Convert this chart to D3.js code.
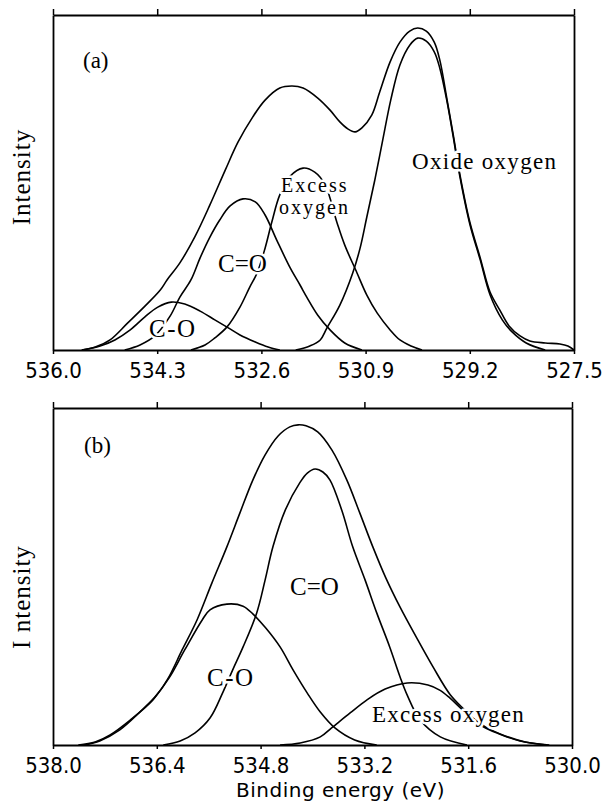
<!DOCTYPE html>
<html><head><meta charset="utf-8">
<script src="https://cdn.jsdelivr.net/npm/d3@7"></script>
<style>
body{margin:0;background:#fff;}
svg{display:block;background:#fff;}
.tick text{font-family:"Liberation Sans Narrow","DejaVu Sans Condensed","Arial Narrow",sans-serif;font-size:22px;fill:#000;}
.lab{font-family:"Liberation Serif","Times New Roman",serif;fill:#000;stroke:#fff;stroke-width:5px;paint-order:stroke;stroke-linejoin:round;}
.ylab{font-family:"Liberation Serif","Times New Roman",serif;fill:#000;font-size:25px;letter-spacing:1px;}
.xlab{font-family:"DejaVu Sans",sans-serif;fill:#000;font-size:20px;letter-spacing:0.5px;}
</style></head><body>
<svg id="c" width="609" height="810"></svg>
<script>
// ---------- Data: panel (a) ----------
const ticksA = [536.0, 534.3, 532.6, 530.9, 529.2, 527.5];
const tickLabelsA = ["536.0", "534.3", "532.6", "530.9", "529.2", "527.5"];
const envelopeA = [[535.53,0],[535.31,0.9],[535.07,3.0],[534.78,8.1],[534.50,13.1],[534.25,17.9],[534.14,20.9],[533.93,26.0],[533.68,34.0],[533.44,43.3],[533.19,53.7],[532.98,62.1],[532.74,69.6],[532.54,74.6],[532.30,78.2],[532.10,78.8],[531.92,78.2],[531.68,75.2],[531.48,71.6],[531.32,68.1],[531.19,66.0],[531.07,65.1],[530.96,66.3],[530.80,70.1],[530.67,77.0],[530.50,86.0],[530.34,91.9],[530.18,95.2],[530.05,96.1],[529.91,95.2],[529.78,91.9],[529.69,86.6],[529.57,74.6],[529.47,64.2],[529.36,52.2],[529.20,38.2],[529.03,27.5],[528.87,17.3],[528.71,11.9],[528.56,7.2],[528.38,4.2],[528.22,2.7],[527.97,2.1],[527.73,1.8],[527.60,1.2],[527.50,0]];
const cOA = [[535.53,0],[535.23,1.2],[534.99,3.0],[534.74,6.0],[534.50,9.9],[534.29,12.8],[534.07,14.3],[533.85,13.7],[533.60,11.6],[533.36,9.0],[533.14,6.6],[532.95,4.5],[532.70,2.4],[532.49,0.9],[532.30,0]];
const cdOA = [[534.83,0],[534.58,1.5],[534.34,4.2],[534.09,10.1],[533.93,15.8],[533.75,20.9],[533.60,27.5],[533.44,33.7],[533.28,38.8],[533.11,43.0],[532.90,45.1],[532.70,44.2],[532.54,40.3],[532.35,32.8],[532.13,24.5],[531.97,19.4],[531.86,15.8],[531.68,10.4],[531.48,6.0],[531.24,2.1],[530.96,0]];
const excessA = [[533.75,0],[533.52,1.5],[533.36,3.6],[533.16,6.9],[532.95,12.8],[532.79,18.8],[532.67,23.0],[532.54,30.4],[532.43,38.2],[532.30,46.3],[532.13,51.9],[531.92,54.3],[531.73,53.1],[531.56,49.3],[531.37,38.2],[531.24,31.3],[531.04,23.0],[530.88,16.4],[530.71,11.0],[530.50,6.0],[530.34,3.0],[530.16,1.2],[529.98,0]];
const oxideA = [[532.04,0],[531.81,1.2],[531.64,3.0],[531.53,6.6],[531.32,13.4],[531.11,23.0],[530.99,30.4],[530.88,39.7],[530.75,50.7],[530.62,62.7],[530.49,74.6],[530.34,85.1],[530.18,91.0],[530.05,93.1],[529.91,92.2],[529.78,89.0],[529.69,84.2],[529.57,74.0],[529.47,63.6],[529.36,51.6],[529.20,37.6],[529.03,26.9],[528.87,16.5],[528.67,9.0],[528.51,5.4],[528.28,2.1],[527.97,0]];

// ---------- Data: panel (b) ----------
const ticksB = [538.0, 536.4, 534.8, 533.2, 531.6, 530.0];
const tickLabelsB = ["538.0", "536.4", "534.8", "533.2", "531.6", "530.0"];
const envelopeB = [[537.61,0],[537.35,0.9],[537.12,3.0],[536.81,7.4],[536.46,13.4],[536.24,19.3],[536.01,28.2],[535.78,37.1],[535.55,48.1],[535.32,58.8],[535.12,68.8],[534.92,78.6],[534.73,86.1],[534.53,91.7],[534.35,94.4],[534.22,95.0],[534.10,94.7],[533.92,92.9],[533.70,87.5],[533.47,78.6],[533.27,68.8],[533.07,58.8],[532.87,49.6],[532.65,40.9],[532.40,32.0],[532.14,23.1],[531.88,15.0],[531.65,10.3],[531.42,6.0],[531.11,3.2],[530.80,1.2],[530.39,0]];
const cdOB = [[536.30,0],[536.04,1.2],[535.81,3.6],[535.58,8.0],[535.38,15.7],[535.23,22.3],[535.07,29.1],[534.86,39.2],[534.73,49.0],[534.61,58.8],[534.42,69.7],[534.19,78.0],[534.08,80.7],[533.96,81.9],[533.84,81.0],[533.73,78.6],[533.55,69.7],[533.38,58.8],[533.19,49.0],[533.01,39.2],[532.81,29.1],[532.65,20.2],[532.54,14.8],[532.34,7.4],[532.03,2.4],[531.62,0]];
const cOB = [[537.51,0],[537.28,1.2],[536.97,4.5],[536.66,9.8],[536.43,14.2],[536.21,19.9],[535.97,28.2],[535.70,37.1],[535.58,40.1],[535.32,41.8],[535.07,41.2],[534.92,38.9],[534.72,34.7],[534.50,29.1],[534.30,22.3],[534.08,15.4],[533.88,9.8],[533.65,5.0],[533.35,1.5],[533.01,0]];
const excessB = [[534.50,0],[534.19,0.6],[533.88,2.4],[533.71,5.0],[533.42,9.5],[533.16,13.4],[532.88,16.6],[532.54,18.4],[532.22,17.8],[532.04,16.3],[531.88,13.9],[531.65,9.8],[531.33,5.3],[531.03,2.7],[530.72,0.9],[530.35,0]];

const svg = d3.select("#c");

function drawPanel(x, y, ticks, labels, curves) {
  const g = svg.append("g");
  const line = d3.line().x(d => x(d[0])).y(d => y(d[1])).curve(d3.curveCatmullRom.alpha(0.5));
  curves.forEach(c => g.append("path").attr("d", line(c))
    .attr("fill", "none").attr("stroke", "#000").attr("stroke-width", 1.6).attr("stroke-linejoin", "round"));
  const [y0, y1] = y.range();
  const [x0, x1] = x.range();
  const bot = g.append("g").attr("transform", `translate(0,${y0})`)
    .call(d3.axisBottom(x).tickValues(ticks).tickSize(4).tickSizeOuter(0).tickPadding(8).tickFormat((d, i) => labels[i]));
  const top = g.append("g").attr("transform", `translate(0,${y1})`)
    .call(d3.axisTop(x).tickValues(ticks).tickSize(6).tickSizeOuter(0).tickFormat(""));
  const lft = g.append("g").attr("transform", `translate(${x0},0)`)
    .call(d3.axisLeft(y).tickValues([]).tickSizeOuter(0));
  const rgt = g.append("g").attr("transform", `translate(${x1},0)`)
    .call(d3.axisRight(y).tickValues([]).tickSizeOuter(0));
  [bot, top, lft, rgt].forEach(a => {
    a.select(".domain").attr("stroke", "#000").attr("stroke-width", 1.8);
    a.selectAll(".tick line").attr("stroke", "#000").attr("stroke-width", 1.5);
  });
  bot.selectAll(".tick text").attr("font-family", null).attr("font-size", null);
  return g;
}

const xA = d3.scaleLinear().domain([536.0, 527.5]).range([53, 574]);
const yA = d3.scaleLinear().domain([0, 100]).range([350, 15]);
const xB = d3.scaleLinear().domain([538.0, 530.0]).range([53, 572]);
const yB = d3.scaleLinear().domain([0, 100]).range([745, 408]);

const gA = drawPanel(xA, yA, ticksA, tickLabelsA, [envelopeA, cOA, cdOA, excessA, oxideA]);
const gB = drawPanel(xB, yB, ticksB, tickLabelsB, [envelopeB, cdOB, cOB, excessB]);

function lab(g, txt, x, y, size, ls) {
  return g.append("text").attr("class", "lab").attr("x", x).attr("y", y)
    .style("font-size", size + "px").style("letter-spacing", (ls || 0) + "px").text(txt);
}
// panel (a) annotations
lab(gA, "(a)", 83, 68, 23, 0);
lab(gA, "C=O", 218, 272, 25, 0);
lab(gA, "C-O", 149, 337, 25, 1.5);
lab(gA, "Excess", 281, 192, 20, 2);
lab(gA, "oxygen", 279, 214, 20, 2);
lab(gA, "Oxide oxygen", 412, 169, 23, 1.3);
// panel (b) annotations
lab(gB, "(b)", 84, 453, 23, 0);
lab(gB, "C=O", 290, 595, 25, 0);
lab(gB, "C-O", 207, 686, 25, 1.5);
lab(gB, "Excess oxygen", 372, 722, 23, 1.2);

// axis titles
svg.append("text").attr("class", "ylab").attr("text-anchor", "middle")
  .attr("transform", "translate(30,177) rotate(-90)").text("Intensity");
svg.append("text").attr("class", "ylab").attr("text-anchor", "middle")
  .attr("transform", "translate(30,597) rotate(-90)").text("I ntensity");
svg.append("text").attr("class", "xlab").attr("x", 236).attr("y", 797).text("Binding energy (eV)");
</script>
</body></html>
